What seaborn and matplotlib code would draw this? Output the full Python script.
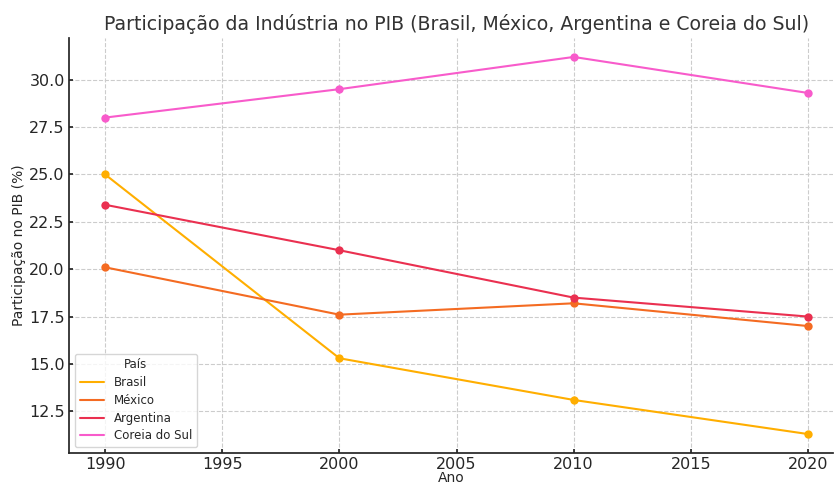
import matplotlib
matplotlib.use("Agg")
import matplotlib.pyplot as plt
import seaborn as sns
import pandas as pd

anos = [1990, 2000, 2010, 2020]
brasil = [25.0, 15.3, 13.1, 11.3]
mexico = [20.1, 17.6, 18.2, 17.0]
argentina = [23.4, 21.0, 18.5, 17.5]
coreia = [28.0, 29.5, 31.2, 29.3]
paises = ["Brasil", "México", "Argentina", "Coreia do Sul"]
cores = ["#FFAE00", "#F46B22", "#EA3050", "#F85BCB"]

rows = []
for p, vals in zip(paises, [brasil, mexico, argentina, coreia]):
    for a, v in zip(anos, vals):
        rows.append({"Ano": a, "Participação": v, "País": p})
df = pd.DataFrame(rows)

sns.set_theme(style="ticks")
plt.rcParams["font.family"] = ["DejaVu Sans"]

fig = plt.figure(figsize=(8.34, 4.84), dpi=100)
ax = fig.add_axes([69/834, 1-453/484, (833-69)/834, (453-38)/484])
sns.lineplot(data=df, x="Ano", y="Participação", hue="País", palette=cores,
             marker="o", markersize=6, markeredgewidth=0, linewidth=1.5, ax=ax)
ax.grid(True, linestyle="--", color="#cccccc", linewidth=0.8)
sns.despine(ax=ax)
ax.set_xlim(1988.46, 2021.07)
ax.set_ylim(10.3, 32.2)
ax.set_xticks([1990, 1995, 2000, 2005, 2010, 2015, 2020])
ax.set_yticks([12.5, 15.0, 17.5, 20.0, 22.5, 25.0, 27.5, 30.0])
ax.tick_params(labelsize=11.5, length=3, direction="in", pad=3)
ax.set_title("Participação da Indústria no PIB (Brasil, México, Argentina e Coreia do Sul)",
             fontsize=13.6, color="#333333", pad=6, x=0.507)
ax.set_xlabel("Ano", fontsize=10)
ax.xaxis.set_label_coords(0.5, -(471 - 453) / 415)
ax.set_ylabel("Participação no PIB (%)", fontsize=10)
ax.yaxis.set_label_coords((26 - 69) / 764, 0.5)
leg = ax.legend(title="País", loc="lower left", fontsize=8.5, title_fontsize=8.5,
                handlelength=2.1, labelspacing=0.4, borderaxespad=0.5)
for line in leg.get_lines():
    line.set_marker("")
fig.savefig("out.png", dpi=100)
